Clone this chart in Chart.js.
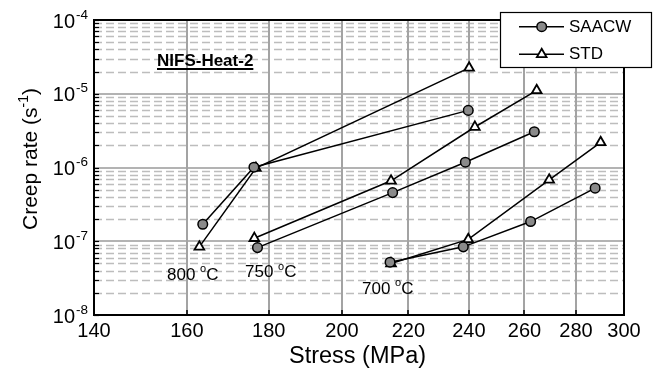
<!DOCTYPE html>
<html><head><meta charset="utf-8">
<script src="https://cdn.jsdelivr.net/npm/chart.js@4.4.1/dist/chart.umd.min.js"></script>
<style>html,body{margin:0;padding:0;background:#fff;}#wrap{width:662px;height:371px;}</style>
</head><body><div id="wrap"><canvas id="c" width="662" height="371"></canvas></div>
<script>
// ---- data ----
const xTicks = [140, 160, 180, 200, 220, 240, 260, 280, 300];
const yDecades = [1e-8, 1e-7, 1e-6, 1e-5, 1e-4];
const yExponents = ['-8', '-7', '-6', '-5', '-4'];
const seriesNames = ['SAACW', 'STD'];
const tempLabels = ['800', '750', '700'];

const saacw800Stress = [163.7, 176.2, 239.8];
const saacw800Rate   = [1.70e-7, 1.01e-6, 5.95e-6];
const std800Stress   = [162.9, 176.7, 240.1];
const std800Rate     = [8.4e-8, 9.8e-7, 2.24e-5];

const saacw750Stress = [177.1, 215.1, 238.8, 263.7];
const saacw750Rate   = [8.2e-8, 4.57e-7, 1.18e-6, 3.05e-6];
const std750Stress   = [176.3, 214.6, 242.1, 264.6];
const std750Rate     = [1.10e-7, 6.6e-7, 3.54e-6, 1.11e-5];

const saacw700Stress = [214.3, 238.1, 262.3, 287.8];
const saacw700Rate   = [5.2e-8, 8.4e-8, 1.85e-7, 5.25e-7];
const std700Stress   = [214.6, 239.8, 269.4, 290.1];
const std700Rate     = [5.0e-8, 1.06e-7, 6.8e-7, 2.19e-6];

const FONT = "'Liberation Sans', Arial, Helvetica, sans-serif";
const CIRCLE_FILL = '#8a8a8a';

function pts(xs, ys) { return xs.map((x, i) => ({ x: x, y: ys[i] })); }
function saacwSet(xs, ys, label) {
  return { label: label, data: pts(xs, ys), showLine: true, borderColor: '#000', borderWidth: 1.5,
    pointStyle: 'circle', pointRadius: 4.8, pointBackgroundColor: CIRCLE_FILL, pointBorderColor: '#000',
    pointBorderWidth: 1.5, pointHoverRadius: 4.8 };
}
function stdSet(xs, ys, label) {
  return { label: label, data: pts(xs, ys), showLine: true, borderColor: '#000', borderWidth: 1.5,
    pointStyle: 'triangle', pointRadius: 5.6, pointBackgroundColor: '#fff', pointBorderColor: '#000',
    pointBorderWidth: 1.8, pointHoverRadius: 5.6 };
}

const datasets = [
  saacwSet(saacw800Stress, saacw800Rate, seriesNames[0]),
  stdSet(std800Stress, std800Rate, seriesNames[1]),
  saacwSet(saacw750Stress, saacw750Rate, seriesNames[0]),
  stdSet(std750Stress, std750Rate, seriesNames[1]),
  saacwSet(saacw700Stress, saacw700Rate, seriesNames[0]),
  stdSet(std700Stress, std700Rate, seriesNames[1])
];

function drawSupText(ctx, parts, x, y, align) {
  // parts: [{t, size, dy, bold}]
  let total = 0;
  parts.forEach(p => { ctx.font = (p.bold ? 'bold ' : '') + p.size + 'px ' + FONT; p.w = ctx.measureText(p.t).width; total += p.w; });
  let cx = align === 'center' ? x - total / 2 : (align === 'right' ? x - total : x);
  parts.forEach(p => {
    ctx.font = (p.bold ? 'bold ' : '') + p.size + 'px ' + FONT;
    ctx.textAlign = 'left'; ctx.textBaseline = 'middle';
    ctx.fillText(p.t, cx, y + (p.dy || 0));
    cx += p.w;
  });
  return total;
}

const decor = {
  id: 'decor',
  beforeDatasetsDraw(chart) {
    const ctx = chart.ctx, a = chart.chartArea, xs = chart.scales.x, ys = chart.scales.y;
    ctx.save();
    ctx.beginPath(); ctx.rect(a.left, a.top, a.right - a.left, a.bottom - a.top); ctx.clip();
    // minor dashed horizontal lines
    ctx.setLineDash([8, 4]); ctx.strokeStyle = '#bdbdbd'; ctx.lineWidth = 1.5;
    for (let d = 0; d < yDecades.length - 1; d++) {
      for (let m = 2; m <= 9; m++) {
        const y = Math.round(ys.getPixelForValue(m * yDecades[d])) + 0.5;
        ctx.beginPath(); ctx.moveTo(a.left, y); ctx.lineTo(a.right, y); ctx.stroke();
      }
    }
    ctx.setLineDash([]);
    // major horizontal
    ctx.strokeStyle = '#b3b3b3'; ctx.lineWidth = 2;
    yDecades.forEach(v => { const y = Math.round(ys.getPixelForValue(v)); ctx.beginPath(); ctx.moveTo(a.left, y); ctx.lineTo(a.right, y); ctx.stroke(); });
    // vertical grid
    ctx.strokeStyle = '#a3a3a3'; ctx.lineWidth = 2;
    xTicks.forEach(v => { const x = Math.round(xs.getPixelForValue(v)); ctx.beginPath(); ctx.moveTo(x, a.top); ctx.lineTo(x, a.bottom); ctx.stroke(); });
    ctx.restore();
  },
  afterDraw(chart) {
    const ctx = chart.ctx, a = chart.chartArea, xs = chart.scales.x, ys = chart.scales.y;
    ctx.save();
    ctx.fillStyle = '#000'; ctx.strokeStyle = '#000';
    // inward ticks
    ctx.lineWidth = 1.2;
    for (let d = 0; d < yDecades.length; d++) {
      for (let m = 1; m <= 9; m++) {
        if (d === yDecades.length - 1 && m > 1) break;
        const y = Math.round(ys.getPixelForValue(m * yDecades[d])) + 0.5;
        ctx.beginPath(); ctx.moveTo(a.left, y); ctx.lineTo(a.left + 5, y); ctx.stroke();
      }
    }
    ctx.lineWidth = 1.5;
    xTicks.forEach(v => { const x = Math.round(xs.getPixelForValue(v)); ctx.beginPath(); ctx.moveTo(x, a.bottom); ctx.lineTo(x, a.bottom - 5); ctx.stroke(); });
    // border
    ctx.lineWidth = 2;
    ctx.strokeRect(a.left, a.top, a.right - a.left, a.bottom - a.top);

    // y tick labels
    yDecades.forEach((v, i) => {
      const y = ys.getPixelForValue(v);
      ctx.font = '20px ' + FONT; ctx.textAlign = 'right'; ctx.textBaseline = 'middle';
      ctx.fillText('10', a.left - 19, y + 2);
      ctx.font = '13.5px ' + FONT; ctx.textAlign = 'left';
      ctx.fillText(yExponents[i], a.left - 18, y - 5);
    });
    // x tick labels
    ctx.font = '20px ' + FONT; ctx.textAlign = 'center'; ctx.textBaseline = 'middle';
    xTicks.forEach(v => ctx.fillText(String(v), xs.getPixelForValue(v), a.bottom + 16.5));

    // x title
    ctx.font = '23.5px ' + FONT; ctx.textAlign = 'center'; ctx.textBaseline = 'middle';
    ctx.fillText('Stress (MPa)', (a.left + a.right) / 2 - 1.5, 357);

    // y title
    ctx.save();
    ctx.translate(31, 159); ctx.rotate(-Math.PI / 2);
    drawSupText(ctx, [{ t: 'Creep rate (s', size: 21 }, { t: '-1', size: 14, dy: -7 }, { t: ')', size: 21 }], 0, 0, 'center');
    ctx.restore();

    // annotation NIFS-Heat-2
    ctx.font = 'bold 17px ' + FONT; ctx.textAlign = 'left'; ctx.textBaseline = 'middle';
    const w = ctx.measureText('NIFS-Heat-2').width;
    ctx.fillText('NIFS-Heat-2', 157, 61);
    ctx.lineWidth = 1.8; ctx.beginPath(); ctx.moveTo(157, 69); ctx.lineTo(157 + w, 69); ctx.stroke();

    // temperature labels
    const tpos = [[167, 275], [245, 272.5], [362, 289]];
    tempLabels.forEach((t, i) => {
      drawSupText(ctx, [{ t: t + ' ', size: 17 }, { t: 'o', size: 11, dy: -6 }, { t: 'C', size: 17 }], tpos[i][0], tpos[i][1], 'left');
    });

    // legend
    const lx = 500, ly = 12, lw = 151, lh = 55;
    ctx.fillStyle = '#fff'; ctx.fillRect(lx, ly, lw, lh);
    ctx.lineWidth = 1.2; ctx.strokeStyle = '#000'; ctx.strokeRect(lx + 0.5, ly + 0.5, lw, lh);
    const rows = [26.7, 54.3];
    rows.forEach((ry, i) => {
      ctx.lineWidth = 1.5; ctx.strokeStyle = '#000';
      ctx.beginPath(); ctx.moveTo(519, ry); ctx.lineTo(564, ry); ctx.stroke();
      if (i === 0) {
        ctx.fillStyle = CIRCLE_FILL; ctx.beginPath(); ctx.arc(541.7, ry, 4.8, 0, Math.PI * 2); ctx.fill(); ctx.stroke();
      } else {
        const r = 5.6;
        ctx.fillStyle = '#fff'; ctx.lineWidth = 1.8; ctx.beginPath();
        ctx.moveTo(541.7, ry - r); ctx.lineTo(541.7 + 0.866 * r, ry + 0.5 * r); ctx.lineTo(541.7 - 0.866 * r, ry + 0.5 * r); ctx.closePath();
        ctx.fill(); ctx.stroke();
      }
      ctx.fillStyle = '#000'; ctx.font = '17px ' + FONT; ctx.textAlign = 'left'; ctx.textBaseline = 'middle';
      ctx.fillText(seriesNames[i], 569, ry + 0.5);
    });
    ctx.restore();
  }
};

new Chart(document.getElementById('c'), {
  type: 'scatter',
  data: { datasets: datasets },
  options: {
    responsive: false, animation: false, devicePixelRatio: 1,
    layout: { padding: { top: 20, right: 38, left: 0, bottom: 0 } },
    plugins: { legend: { display: false }, tooltip: { enabled: false } },
    scales: {
      x: { type: 'logarithmic', min: 140, max: 300, ticks: { display: false }, grid: { display: false }, border: { display: false },
           afterFit(s) { s.height = 56; } },
      y: { type: 'logarithmic', min: 1e-8, max: 1e-4, ticks: { display: false }, grid: { display: false }, border: { display: false },
           afterFit(s) { s.width = 94; } }
    }
  },
  plugins: [decor]
});
</script></body></html>
